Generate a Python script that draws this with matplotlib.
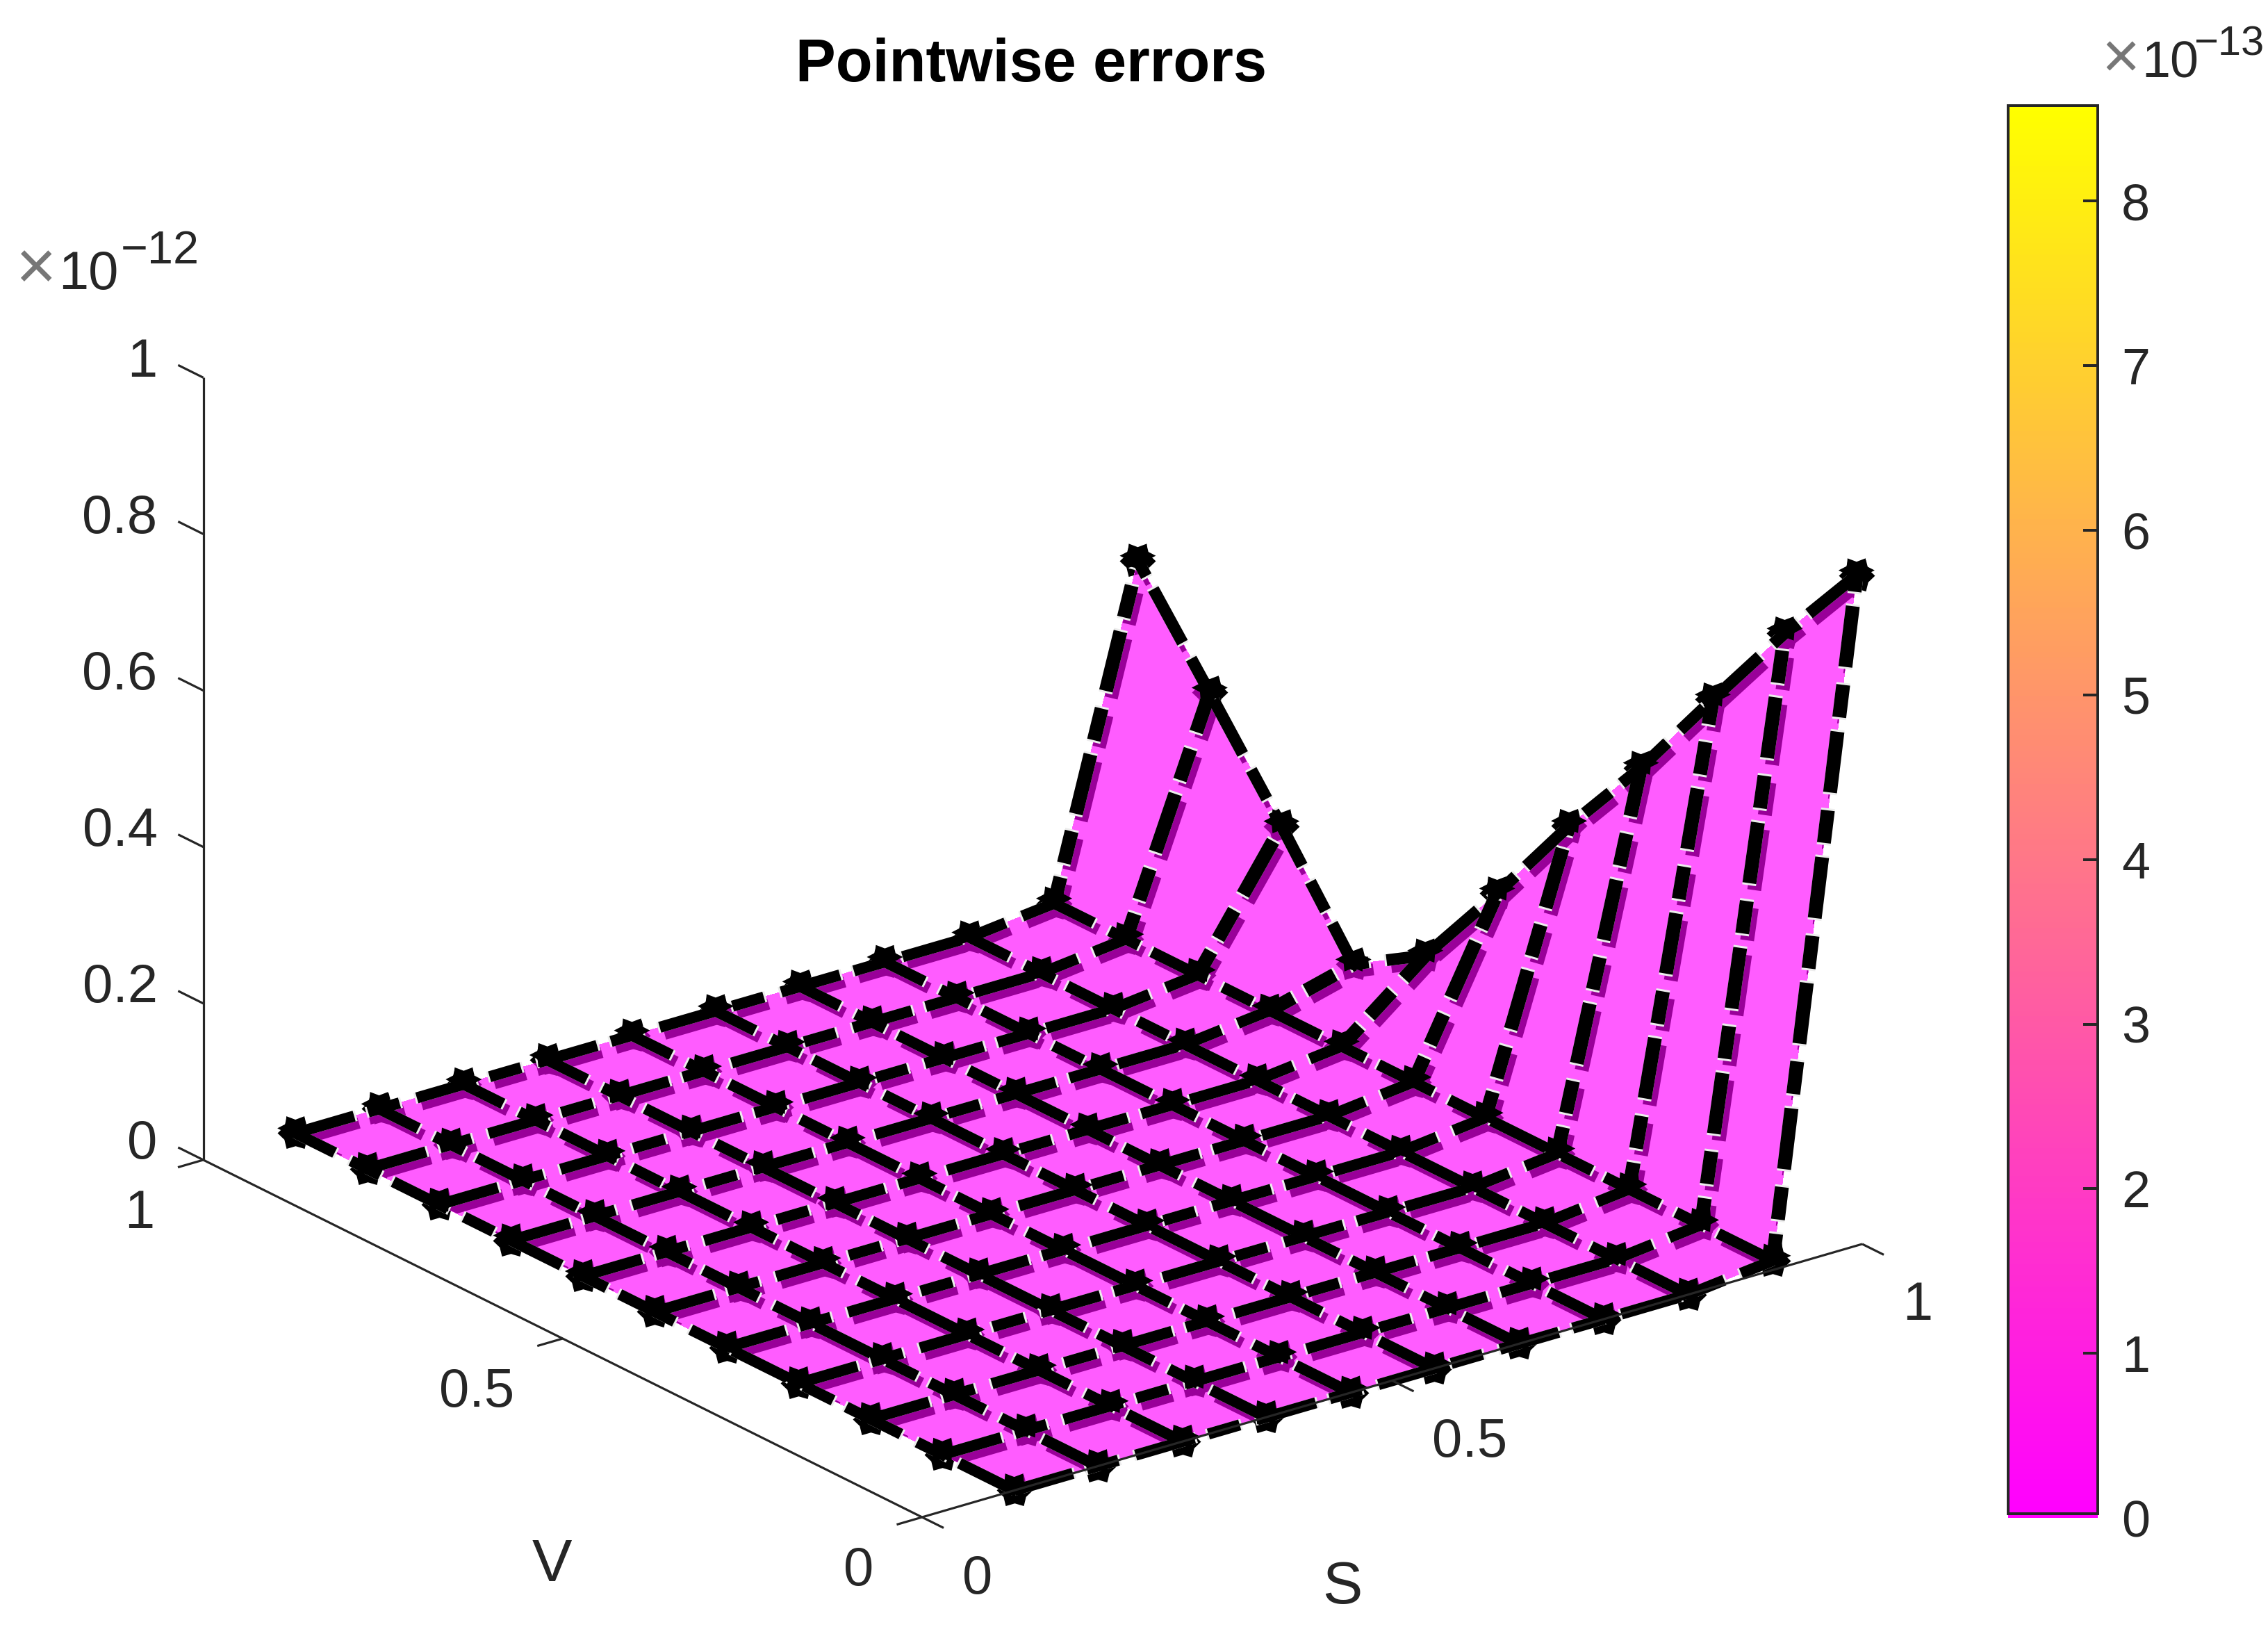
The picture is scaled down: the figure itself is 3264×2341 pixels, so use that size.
import numpy as np
import matplotlib

matplotlib.use("Agg")

import matplotlib.pyplot as plt
import matplotlib.patheffects as pe
from matplotlib.path import Path
from matplotlib.transforms import Affine2D
from mpl_toolkits.mplot3d import proj3d

# node positions and the errors (units of 1e-12), the rest of the grid is ~0
s_nodes = [0.098, 0.187, 0.277, 0.366, 0.456, 0.545, 0.635, 0.725, 0.815, 0.905, 0.994]
v_nodes = [0.0, 0.1, 0.2, 0.3, 0.4, 0.5, 0.6, 0.7, 0.8, 0.9, 1.0]
edge_error = [0.857, 0.737, 0.607, 0.474, 0.354, 0.222, 0.097, 0.04, 0.171, 0.296, 0.419]
next_to_edge_error = 0.012

s_ticks = [0, 0.5, 1]
v_ticks = [0, 0.5, 1]
z_ticks = [0, 0.2, 0.4, 0.6, 0.8, 1]
tick_names = {0: "0", 0.2: "0.2", 0.4: "0.4", 0.5: "0.5", 0.6: "0.6", 0.8: "0.8", 1: "1"}
cbar_ticks = [0, 1, 2, 3, 4, 5, 6, 7, 8]
cbar_max = 8.58

W, H = 3264, 2341
PX = 72 / 200  # points per output pixel
DARK = "#262626"
FACE = "#FF5CFF"
SHADE = "#990099"
EDGE_WHITE = "#EDEDED"
DASH = [88, 21, 47, 26]

plt.rcParams["font.family"] = ["Liberation Sans", "DejaVu Sans"]
plt.rcParams["lines.scale_dashes"] = False

fig = plt.figure(figsize=(W / 200, H / 200), dpi=200, facecolor="white")


def fig_text(x, y, s, size, **kw):
    kw.setdefault("color", DARK)
    return fig.text(x / W, 1 - y / H, s, fontsize=size, **kw)


ax = fig.add_axes([0, 0, 1, 1], projection="3d", proj_type="ortho", computed_zorder=False)
ax.view_init(elev=22.33, azim=-127.4)
ax.set_xlim(0, 1, view_margin=0)
ax.set_ylim(0, 1, view_margin=0)
ax.set_zlim(0, 1, view_margin=0)
ax.set_axis_off()
ax.patch.set_visible(False)
ax.set_box_aspect((1, 1, 0.7145), zoom=1.0)


def to_px(s, v, z):
    x, y, _ = proj3d.proj_transform(s, v, z, ax.get_proj())
    return ax.transData.transform((x, y))


# fit the box to where the axes corners sit in the picture
fig.canvas.draw()
span = (to_px(1, 0, 0) - to_px(0, 0, 0))[0]
ax.set_box_aspect((1, 1, 0.7145), zoom=1353 / span)
fig.canvas.draw()
corner = to_px(0, 0, 0)
pos = ax.get_position(original=True)
ax.set_position([pos.x0 + (1327 - corner[0]) / W, pos.y0 + (H - 2183 - corner[1]) / H, pos.width, pos.height])
fig.canvas.draw()

S, V = np.meshgrid(s_nodes, v_nodes)
Z = np.zeros_like(S)
Z[:, -1] = edge_error
Z[:, -2] = next_to_edge_error
last = len(s_nodes) - 1

# outline of the surface, the dark band only shows inside it
out_s = list(S[0]) + list(S[1:, -1]) + list(S[-1, -2::-1]) + list(S[-2:0:-1, 0])
out_v = list(V[0]) + list(V[1:, -1]) + list(V[-1, -2::-1]) + list(V[-2:0:-1, 0])
out_z = list(Z[0]) + list(Z[1:, -1]) + list(Z[-1, -2::-1]) + list(Z[-2:0:-1, 0])
ox, oy, _ = proj3d.proj_transform(np.array(out_s), np.array(out_v), np.array(out_z), ax.get_proj())
outline = Path(np.column_stack([ox, oy]))


def inside_surface(line):
    line.set_clip_on(True)
    line.set_clip_box(fig.bbox)
    line.set_clip_path(outline, ax.transData)


def dashes(phase, grow=0):
    pattern = [DASH[0] + 2 * grow, DASH[1] - 2 * grow, DASH[2] + 2 * grow, DASH[3] - 2 * grow]
    return ((phase + grow) * PX, [p * PX for p in pattern])


def path_length(xs, ys, zs):
    pts = np.array([to_px(a, b, c) for a, b, c in zip(xs, ys, zs)])
    return np.hypot(*np.diff(pts, axis=0).T).sum()


def mesh_line(xs, ys, zs, width, phase=0):
    style = dashes(phase)
    band = ax.plot(xs, ys, zs, color=SHADE, lw=width * PX, ls=style, dash_capstyle="butt",
                   zorder=3, clip_on=False,
                   path_effects=[pe.SimpleLineShadow(offset=(7 * PX, -10 * PX), shadow_color=SHADE, alpha=1)])[0]
    inside_surface(band)
    ax.plot(xs, ys, zs, color=EDGE_WHITE, lw=width * PX, ls=dashes(phase, 3), dash_capstyle="butt",
            zorder=4, clip_on=False)
    ax.plot(xs, ys, zs, color="black", lw=width * PX, ls=style, dash_capstyle="butt",
            zorder=5, clip_on=False)


# six pointed stars, two points up. the raster is stretched so the top ones are wider than tall
star = Path.unit_regular_star(6, innerCircle=0.72).transformed(Affine2D().rotate_deg(30))
crown = Path.unit_regular_star(6, innerCircle=0.62).transformed(Affine2D().rotate_deg(30).scale(1.3, 1))
nodes = (S.ravel(), V.ravel(), Z.ravel())
MARK = 52 * PX

# full markers go below the surface, only what sticks out past it stays visible
ax.plot(*nodes, ls="none", marker=star, ms=MARK, mfc="black", mec="black", mew=0, zorder=1, clip_on=False)
ax.plot_surface(S, V, Z, color=FACE, shade=False, rstride=1, cstride=1, linewidth=0,
                antialiased=False, zorder=2, clip_on=False)
low = ax.plot(*nodes, ls="none", marker=star, ms=MARK, mfc=SHADE, mec=SHADE, mew=0, zorder=3, clip_on=False)[0]
inside_surface(low)
ax.plot(*nodes, ls="none", marker=crown, ms=MARK, mfc="black", mec="black", mew=0, zorder=6, clip_on=False,
        path_effects=[pe.SimplePatchShadow(offset=(0, 7 * PX), shadow_rgbFace="black", alpha=1)])

for j in range(len(v_nodes)):
    # the dash pattern runs on from the flat part into the rib
    mesh_line(S[j, :last], V[j, :last], Z[j, :last], 16)
    rib_phase = path_length(S[j, :last], V[j, :last], Z[j, :last])
    mesh_line(S[j, last - 1:], V[j, last - 1:], Z[j, last - 1:], 20, phase=rib_phase)
for i in range(last):
    mesh_line(S[:, i], V[:, i], Z[:, i], 16)
mesh_line(S[:, last], V[:, last], Z[:, last], 17)

# axes drawn by hand, only three edges are visible
rule = dict(color=DARK, lw=3.2 * PX, zorder=7, clip_on=False, solid_capstyle="butt")
ax.plot([0, 1], [0, 0], [0, 0], **rule)
ax.plot([0, 0], [0, 1], [0, 0], **rule)
ax.plot([0, 0], [1, 1], [0, 1], **rule)


def tick_label(point, dx, dy, text, ha):
    x, y = to_px(*point)
    fig_text(x + dx, H - y + dy, text, 28, ha=ha, va="center")


for t in s_ticks:
    ax.plot([t, t], [0, -0.03], [0, 0], **rule)
    tick_label((t, 0, 0), 58, 89, tick_names[t], "left")
for t in v_ticks:
    ax.plot([0, -0.027], [t, t], [0, 0], **rule)
    tick_label((0, t, 0), -70, 78, tick_names[t], "right")
for t in z_ticks:
    ax.plot([0, 0], [1, 1.035], [t, t], **rule)
    tick_label((0, 1, t), -66, -22, tick_names[t], "right")

fig_text(1484, 95, "Pointwise errors", 31.2, fontweight="bold", ha="center", va="center", color="black")
fig_text(794, 2253, "V", 31, ha="center", va="center")
fig_text(1932, 2285, "S", 31, ha="center", va="center")

# exponents
fig_text(22, 416, "\u00d7", 36, ha="left", va="baseline", color="#777777")
fig_text(84, 416, "10", 28, ha="left", va="baseline")
fig_text(174, 379, "\u221212", 24, ha="left", va="baseline")
fig_text(3024, 112, "\u00d7", 34, ha="left", va="baseline", color="#777777")
fig_text(3082, 112, "10", 26.5, ha="left", va="baseline")
fig_text(3157, 79, "\u221213", 21.5, ha="left", va="baseline")

# colorbar
cax = fig.add_axes([2890 / W, 1 - 2184 / H, 129 / W, (2184 - 152) / H])
gradient = np.linspace(0, 1, 512).reshape(-1, 1)
cax.imshow(gradient, cmap="spring", origin="lower", aspect="auto", extent=(0, 1, 0, cbar_max))
cax.set_xticks([])
cax.set_yticks(cbar_ticks)
cax.yaxis.tick_right()
cax.tick_params(axis="y", direction="in", length=21 * PX, width=4 * PX, color=DARK,
                labelcolor=DARK, labelsize=26.5, pad=34 * PX)
cax.yaxis.get_major_ticks()[0].tick2line.set_visible(False)
for side, spine in cax.spines.items():
    spine.set_linewidth(4 * PX)
    spine.set_edgecolor(DARK)
# the frame stops a little above the bottom of the colour strip
frame_low = 0.025
cax.spines["bottom"].set_visible(False)
cax.spines["left"].set_bounds(frame_low, cbar_max)
cax.spines["right"].set_bounds(frame_low, cbar_max)
cax.axhline(frame_low, color=DARK, lw=4 * PX)

fig.savefig("out.png", dpi=200, facecolor="white")
